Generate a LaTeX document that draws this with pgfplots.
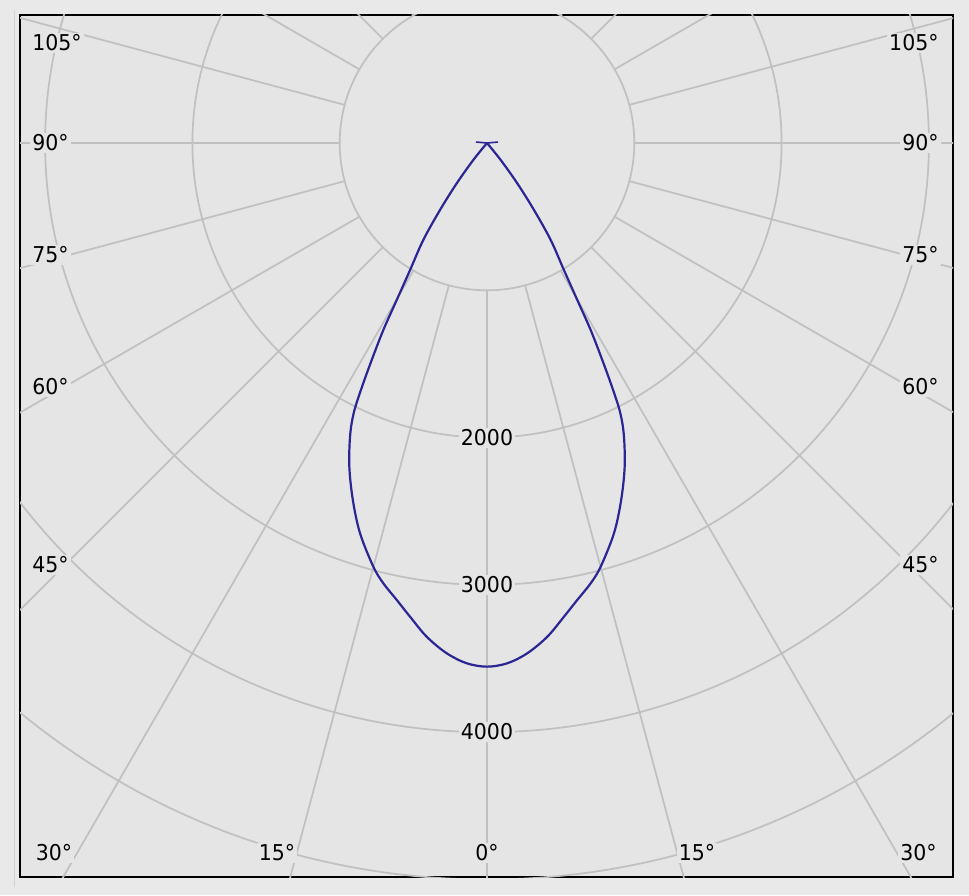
\documentclass[border=0pt]{standalone}
\usepackage{pgfplots}
\pgfplotsset{compat=1.18}
\usepackage{pgfplotstable}
\usepackage{fontspec}
\setmainfont{DejaVu Sans}[FakeStretch=0.94]
\definecolor{bgout}{RGB}{233,233,233}
\definecolor{bgin}{RGB}{229,229,229}
\definecolor{gridc}{RGB}{192,192,192}
\definecolor{curvec}{RGB}{44,38,148}
\definecolor{edgec}{RGB}{210,210,210}
\tikzset{lab/.style={font=\fontsize{10.9}{12}\selectfont, fill=bgin, inner sep=1pt, text=black}}

% luminous intensity (cd) versus angle from nadir (deg); negative = left half
\pgfplotstableread{
angle cd
-40.5 0
-38.9 148
-36.9 342
-35.05 555
-33.3 788
-31.2 1008
-29.9 1230
-29.0 1452
-27.98 1668
-27.1 1870
-26.3 2040
-25.1 2190
-23.04 2388
-20.6 2589
-18.04 2785
-15.02 2978
-13.25 3071
-11.18 3162
-9.23 3258
-6.96 3377
-4.52 3475
-2.23 3535
0 3555
2.23 3535
4.52 3475
6.96 3377
9.23 3258
11.18 3162
13.25 3071
15.02 2978
18.04 2785
20.6 2589
23.04 2388
25.1 2190
26.3 2040
27.1 1870
27.98 1668
29.0 1452
29.9 1230
31.2 1008
33.3 788
35.05 555
36.9 342
38.9 148
40.5 0
}\ldt

\pgfplotstableread{
angle cd
-95 75
0 0
95 75
}\apex

\begin{document}
\begin{tikzpicture}
\fill[bgout] (-10pt,-9pt) rectangle (474.5pt,438.5pt);
\draw[edgec, line width=0.5pt] (-3pt,-5pt) -- (-3pt,433.5pt);
\begin{axis}[
  at={(0,0)}, anchor=south west,
  x=0.07365pt, y=0.07365pt,
  xmin=-3170.4, xmax=3163.6, ymin=-4983, ymax=869,
  enlargelimits=false,
  xtick=\empty, ytick=\empty,
  axis line style={black, line width=1pt},
  axis background/.style={fill=bgin},
  clip=true,
]
\pgfplotsinvokeforeach{1000,2000,3000,4000,5000}{
  \draw[gridc, line width=0.85pt] (axis cs:0,0) circle[radius=#1];
}
\pgfplotsinvokeforeach{0,15,...,180}{
  \begin{scope}[shift={(axis cs:0,0)}, x=0.07365pt, y=0.07365pt]
   \draw[gridc, line width=0.85pt] (-90+#1:1000) -- (-90+#1:8000);
   \draw[gridc, line width=0.85pt] (-90-#1:1000) -- (-90-#1:8000);
  \end{scope}
}
% circle labels
\node[lab] at (axis cs:0,-2003) {2000};
\node[lab] at (axis cs:0,-3001) {3000};
\node[lab] at (axis cs:0,-3999) {4000};
% left angle labels
\node[lab, anchor=west] at (axis cs:-3103,679) {105°};
\node[lab, anchor=west] at (axis cs:-3103,0) {90°};
\node[lab, anchor=west] at (axis cs:-3103,-760) {75°};
\node[lab, anchor=west] at (axis cs:-3103,-1656) {60°};
\node[lab, anchor=west] at (axis cs:-3103,-2865) {45°};
% right angle labels
\node[lab, anchor=east] at (axis cs:3082,679) {105°};
\node[lab, anchor=east] at (axis cs:3082,0) {90°};
\node[lab, anchor=east] at (axis cs:3082,-760) {75°};
\node[lab, anchor=east] at (axis cs:3082,-1656) {60°};
\node[lab, anchor=east] at (axis cs:3082,-2865) {45°};
% bottom angle labels
\node[lab] at (axis cs:-2940,-4820) {30°};
\node[lab] at (axis cs:-1426,-4820) {15°};
\node[lab] at (axis cs:0,-4820) {0°};
\node[lab] at (axis cs:1426,-4820) {15°};
\node[lab] at (axis cs:2929,-4820) {30°};
% intensity curve
\addplot[curvec, line width=1.1pt, smooth, tension=0.55, mark=none]
  table[x expr={\thisrow{cd}*sin(\thisrow{angle})}, y expr={-\thisrow{cd}*cos(\thisrow{angle})}] {\ldt};
\addplot[curvec, line width=0.8pt, mark=none]
  table[x expr={\thisrow{cd}*sin(\thisrow{angle})}, y expr={-\thisrow{cd}*cos(\thisrow{angle})}] {\apex};
\end{axis}
\end{tikzpicture}
\end{document}
